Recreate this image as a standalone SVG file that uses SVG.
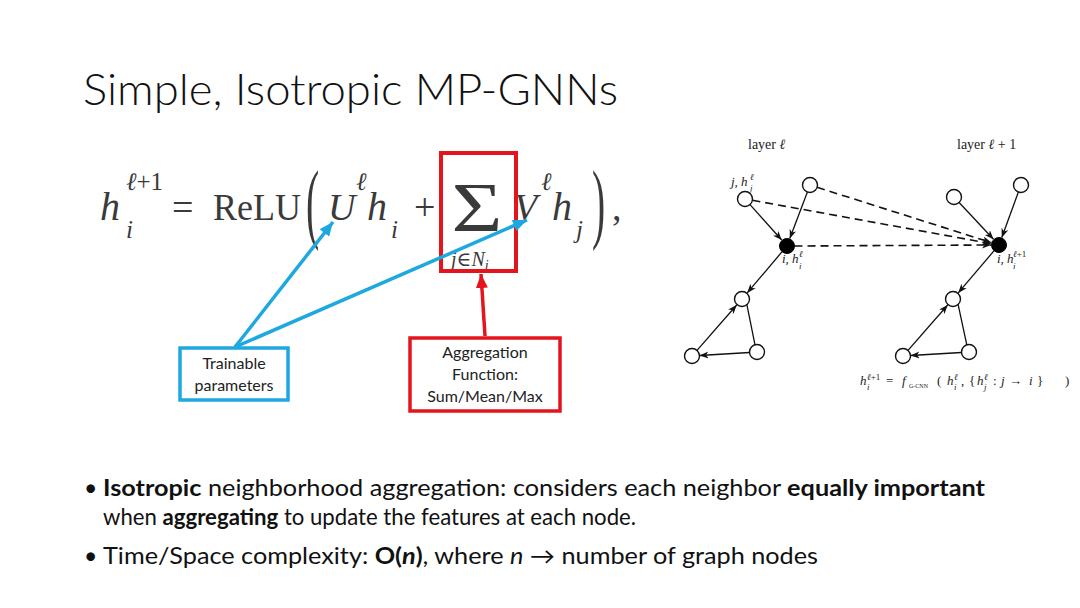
<svg xmlns="http://www.w3.org/2000/svg" width="1080" height="608" viewBox="0 0 1080 608">
<defs>
<style>
.title{font-family:Lato,"Open Sans",sans-serif;font-weight:300;font-size:44px;fill:#111}
.body{font-family:Lato,"Open Sans",sans-serif;font-size:23px;fill:#111}
.b{font-weight:700}
.lbl{font-family:Lato,"Open Sans",sans-serif;font-size:16px;fill:#222}
.m{font-family:"Liberation Serif","DejaVu Serif",serif;fill:#3a3a3a}
.it{font-style:italic}
.g{font-family:"Liberation Serif","DejaVu Serif",serif;fill:#222;font-size:13px}
.s{font-size:9px}
.edge{stroke:#111;stroke-width:1.3;fill:none;marker-end:url(#ah)}
.dash{stroke:#111;stroke-width:1.6;fill:none;stroke-dasharray:8 5;marker-end:url(#ah)}
.node{fill:#fff;stroke:#111;stroke-width:1.4}
.blk{fill:#000;stroke:#000;stroke-width:1}
</style>
<marker id="ah" markerUnits="userSpaceOnUse" markerWidth="10" markerHeight="8" refX="9" refY="3.5" orient="auto">
<path d="M0,0 L9,3.5 L0,7 L2.5,3.5 z" fill="#111"/>
</marker>
<marker id="ab" markerUnits="userSpaceOnUse" markerWidth="16" markerHeight="14" refX="14" refY="6" orient="auto">
<path d="M0,0 L14,6 L0,12 z" fill="#1ea8e0"/>
</marker>
<marker id="ar" markerUnits="userSpaceOnUse" markerWidth="16" markerHeight="14" refX="14" refY="6" orient="auto">
<path d="M0,0 L14,6 L0,12 z" fill="#e3141b"/>
</marker>
</defs>
<rect width="1080" height="608" fill="#fff"/>

<text class="title" x="83" y="105" textLength="535" lengthAdjust="spacingAndGlyphs">Simple, Isotropic MP-GNNs</text>

<g id="formula">
<text class="m it" x="100" y="220" font-size="40">h</text>
<text class="m" x="126" y="190" font-size="25"><tspan class="it">ℓ</tspan>+1</text>
<text class="m it" x="126" y="238" font-size="25">i</text>
<text class="m" x="172" y="220" font-size="38">=</text>
<text class="m" x="213" y="220" font-size="38" textLength="88" lengthAdjust="spacingAndGlyphs">ReLU</text>
<text class="m" x="0" y="0" font-size="88" transform="translate(306,232) scale(0.45,1)">(</text>
<text class="m it" x="328" y="220" font-size="38">U</text>
<text class="m it" x="356" y="190" font-size="25">ℓ</text>
<text class="m it" x="367" y="220" font-size="40">h</text>
<text class="m it" x="391" y="238" font-size="25">i</text>
<text class="m" x="414" y="220" font-size="38">+</text>
<text class="m" x="0" y="0" font-size="70" text-anchor="middle" transform="translate(477,231) scale(1.25,1)">Σ</text>
<text class="m" x="451" y="266" font-size="20"><tspan class="it">j</tspan>∈<tspan class="it">N</tspan><tspan class="it" font-size="14" dy="4">i</tspan></text>
<text class="m it" x="514" y="220" font-size="38">V</text>
<text class="m it" x="541" y="190" font-size="25">ℓ</text>
<text class="m it" x="552" y="220" font-size="40">h</text>
<text class="m it" x="576" y="238" font-size="25">j</text>
<text class="m" x="0" y="0" font-size="88" transform="translate(592,232) scale(0.45,1)">)</text>
<text class="m" x="612" y="220" font-size="38">,</text>
</g>

<g id="agg-box">
<rect x="441" y="153" width="75" height="118" fill="none" stroke="#e3141b" stroke-width="4"/>
</g>

<g id="trainable">
<rect x="180" y="348" width="108" height="52" fill="#fff" stroke="#1ea8e0" stroke-width="3.5"/>
<text class="lbl" x="234" y="369" text-anchor="middle">Trainable</text>
<text class="lbl" x="234" y="391" text-anchor="middle">parameters</text>
</g>

<g id="aggregation">
<rect x="410" y="338" width="150" height="73" fill="#fff" stroke="#e3141b" stroke-width="3.5"/>
<text class="lbl" x="485" y="358" text-anchor="middle">Aggregation</text>
<text class="lbl" x="485" y="380" text-anchor="middle">Function:</text>
<text class="lbl" x="485" y="402" text-anchor="middle">Sum/Mean/Max</text>
</g>

<g id="connectors">
<line x1="235" y1="347" x2="333" y2="222" stroke="#1ea8e0" stroke-width="3.5" marker-end="url(#ab)"/>
<line x1="235" y1="347" x2="527" y2="220" stroke="#1ea8e0" stroke-width="3.5" marker-end="url(#ab)"/>
<line x1="485" y1="336" x2="481" y2="274" stroke="#e3141b" stroke-width="3.5" marker-end="url(#ar)"/>

<line class="edge" x1="750" y1="204.6" x2="781.7" y2="240"/>
<line class="edge" x1="807.4" y1="192" x2="789.8" y2="238.5"/>
<line class="edge" x1="782.1" y1="251.7" x2="747.2" y2="292.9"/>
<line class="edge" x1="697" y1="350.4" x2="736.7" y2="305"/>
<line class="edge" x1="755" y1="344.8" x2="744.2" y2="291.3"/>
<line class="edge" x1="749.5" y1="352.5" x2="699.5" y2="355.5"/>

<line class="edge" x1="959.1" y1="202.5" x2="993.5" y2="239.2"/>
<line class="edge" x1="1018.4" y1="192" x2="1001.8" y2="237.5"/>
<line class="edge" x1="994.1" y1="250.7" x2="958.2" y2="292.9"/>
<line class="edge" x1="908" y1="350.4" x2="947.7" y2="305"/>
<line class="edge" x1="966.8" y1="344.8" x2="955.3" y2="291.3"/>
<line class="edge" x1="961.5" y1="352.5" x2="910.5" y2="355.5"/>

<line class="dash" x1="752.4" y1="200.3" x2="991.1" y2="243.6"/>
<line class="dash" x1="817.1" y1="187.3" x2="991.4" y2="242.6"/>
<line class="dash" x1="794.5" y1="246" x2="991" y2="245"/>
</g>

<g id="graph-left">
<circle class="node" cx="745" cy="199" r="7.5"/>
<circle class="node" cx="810" cy="185" r="7.5"/>
<circle class="blk" cx="787" cy="246" r="7.5"/>
<circle class="node" cx="742" cy="299" r="7.5"/>
<circle class="node" cx="692" cy="356" r="7.5"/>
<circle class="node" cx="757" cy="352" r="7.5"/>
</g>
<g id="graph-right">
<circle class="node" cx="954" cy="197" r="7.5"/>
<circle class="node" cx="1021" cy="185" r="7.5"/>
<circle class="blk" cx="999" cy="245" r="7.5"/>
<circle class="node" cx="953" cy="299" r="7.5"/>
<circle class="node" cx="903" cy="356" r="7.5"/>
<circle class="node" cx="969" cy="352" r="7.5"/>
</g>

<g id="graph-labels">
<text class="g" x="748" y="149" style="font-size:14px">layer <tspan class="it">ℓ</tspan></text>
<text class="g" x="957" y="149" style="font-size:14px">layer <tspan class="it">ℓ</tspan> + 1</text>

<text class="g it" x="731" y="186">j, h</text>
<text class="g it s" x="750" y="180">ℓ</text>
<text class="g it s" x="750" y="191">j</text>

<text class="g it" x="782" y="263">i, h</text>
<text class="g it s" x="799" y="257">ℓ</text>
<text class="g it s" x="799" y="269">i</text>

<text class="g it" x="997" y="263">i, h</text>
<text class="g s" x="1013" y="257"><tspan class="it">ℓ</tspan>+1</text>
<text class="g it s" x="1013" y="269">i</text>
</g>

<g id="update-formula">
<text class="g it" x="860" y="385">h</text>
<text class="g s" x="867" y="380"><tspan class="it">ℓ</tspan>+1</text>
<text class="g it s" x="867" y="390">i</text>
<text class="g" x="886" y="385">=</text>
<text class="g it" x="902" y="385">f</text>
<text class="g" x="909" y="388" style="font-size:6px">G-CNN</text>
<text class="g" x="937" y="385">(</text>
<text class="g it" x="947" y="385">h</text>
<text class="g it s" x="954" y="380">ℓ</text>
<text class="g it s" x="954" y="390">i</text>
<text class="g" x="961" y="385">,</text>
<text class="g" x="969" y="385">{</text>
<text class="g it" x="977" y="385">h</text>
<text class="g it s" x="984" y="380">ℓ</text>
<text class="g it s" x="984" y="390">j</text>
<text class="g" x="993" y="385">:</text>
<text class="g it" x="1001" y="385">j</text>
<text class="g" x="1009" y="385">→</text>
<text class="g it" x="1029" y="385">i</text>
<text class="g" x="1037" y="385">}</text>
<text class="g" x="1065" y="385">)</text>
</g>

<g id="bullets">
<text class="body" x="84" y="496">•</text>
<text class="body" x="103" y="496" textLength="882" lengthAdjust="spacingAndGlyphs"><tspan class="b">Isotropic</tspan> neighborhood aggregation: considers each neighbor <tspan class="b">equally important</tspan></text>
<text class="body" x="103" y="525" textLength="533" lengthAdjust="spacingAndGlyphs">when <tspan class="b">aggregating</tspan> to update the features at each node.</text>
<text class="body" x="84" y="564">•</text>
<text class="body" x="103" y="564" textLength="715" lengthAdjust="spacingAndGlyphs">Time/Space complexity: <tspan class="b">O(<tspan font-style="italic">n</tspan>)</tspan>, where <tspan font-style="italic">n</tspan> → number of graph nodes</text>
</g>
</svg>
